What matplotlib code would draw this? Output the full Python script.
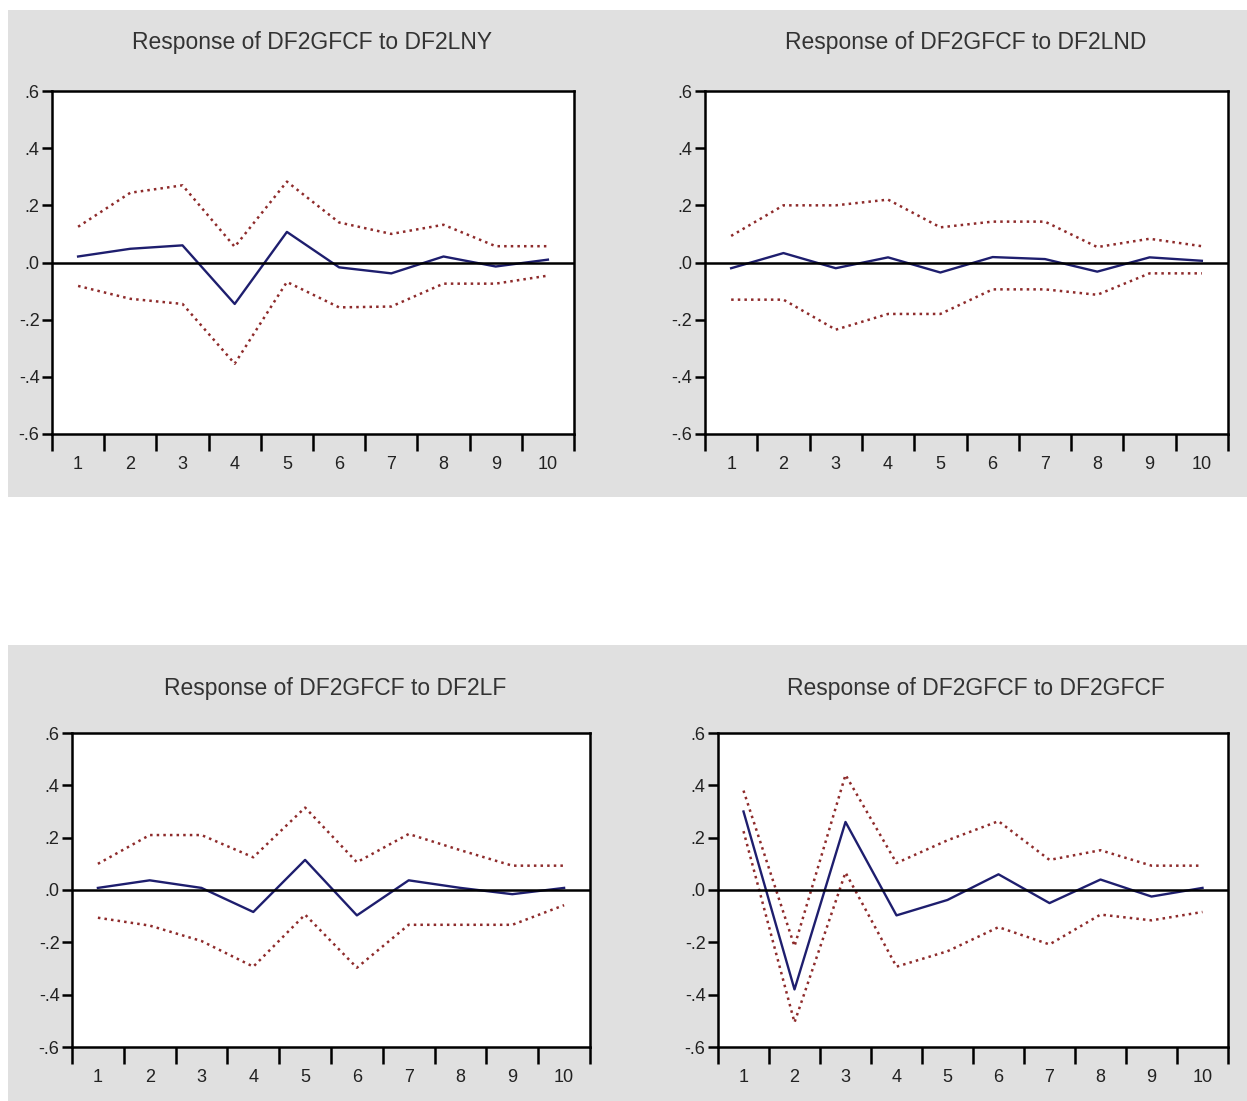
import matplotlib
matplotlib.use("Agg")
import matplotlib.pyplot as plt
from matplotlib.patches import Rectangle
from matplotlib.ticker import FixedLocator, FuncFormatter, NullFormatter

plt.rcParams['font.family'] = ['Liberation Sans', 'DejaVu Sans']

W, H = 1247, 1101

periods = list(range(1, 11))

titles = [
    "Response of DF2GFCF to DF2LNY",
    "Response of DF2GFCF to DF2LND",
    "Response of DF2GFCF to DF2LF",
    "Response of DF2GFCF to DF2GFCF",
]

# impulse responses and +/- 2 S.E. bands
resp_lny = [0.021, 0.048, 0.060, -0.145, 0.107, -0.017, -0.038, 0.021, -0.014, 0.010]
upper_lny = [0.125, 0.244, 0.270, 0.055, 0.283, 0.140, 0.100, 0.132, 0.057, 0.057]
lower_lny = [-0.082, -0.127, -0.145, -0.354, -0.068, -0.157, -0.154, -0.074, -0.074, -0.046]

resp_lnd = [-0.020, 0.033, -0.020, 0.018, -0.035, 0.019, 0.012, -0.032, 0.018, 0.006]
upper_lnd = [0.093, 0.200, 0.200, 0.220, 0.123, 0.143, 0.143, 0.054, 0.083, 0.057]
lower_lnd = [-0.130, -0.130, -0.235, -0.180, -0.180, -0.094, -0.094, -0.113, -0.038, -0.038]

resp_lf = [0.008, 0.037, 0.008, -0.084, 0.115, -0.097, 0.037, 0.008, -0.016, 0.008]
upper_lf = [0.100, 0.210, 0.210, 0.125, 0.315, 0.106, 0.214, 0.152, 0.093, 0.093]
lower_lf = [-0.106, -0.136, -0.195, -0.293, -0.094, -0.297, -0.133, -0.133, -0.133, -0.058]

resp_gfcf = [0.300, -0.380, 0.260, -0.097, -0.038, 0.060, -0.050, 0.040, -0.025, 0.008]
upper_gfcf = [0.380, -0.215, 0.440, 0.103, 0.190, 0.263, 0.115, 0.152, 0.093, 0.093]
lower_gfcf = [0.225, -0.506, 0.067, -0.293, -0.234, -0.142, -0.208, -0.094, -0.116, -0.084]

series = [
    (resp_lny, upper_lny, lower_lny),
    (resp_lnd, upper_lnd, lower_lnd),
    (resp_lf, upper_lf, lower_lf),
    (resp_gfcf, upper_gfcf, lower_gfcf),
]

# axes boxes in pixels: left, right, top, bottom
boxes = [
    (52, 574, 91, 434),
    (705, 1228, 91, 434),
    (72, 590, 733, 1047),
    (718, 1228, 733, 1047),
]
title_pos = [(312, 42), (966, 42), (335, 688), (976, 688)]

fig = plt.figure(figsize=(W / 100, H / 100), dpi=100)
fig.patch.set_facecolor('white')

# grey backing panels for each row of graphs
for y0, y1 in [(10, 497), (645, 1101)]:
    fig.patches.append(Rectangle((8 / W, 1 - y1 / H), (W - 8) / W, (y1 - y0) / H,
                                 transform=fig.transFigure, facecolor='#e0e0e0',
                                 edgecolor='none', zorder=-5))


def fmt_y(v, pos):
    s = f"{v:.1f}"
    return s.replace("0.", ".")


for (l, r, t, b), title, (tx, ty), (resp, up, lo) in zip(boxes, titles, title_pos, series):
    ax = fig.add_axes([l / W, 1 - b / H, (r - l) / W, (b - t) / H])
    ax.set_facecolor('white')
    ax.plot(periods, up, color='#8e2b2b', linestyle=':', linewidth=1.8)
    ax.plot(periods, lo, color='#8e2b2b', linestyle=':', linewidth=1.8)
    ax.plot(periods, resp, color='#1e1e6e', linewidth=1.7)
    ax.axhline(0, color='black', linewidth=1.8)

    ax.set_xlim(0.5, 10.5)
    ax.set_ylim(-0.6, 0.6)

    ax.xaxis.set_major_locator(FixedLocator([i + 0.5 for i in range(0, 11)]))
    ax.xaxis.set_major_formatter(NullFormatter())
    ax.xaxis.set_minor_locator(FixedLocator(periods))
    ax.xaxis.set_minor_formatter(FuncFormatter(lambda v, p: f"{int(v)}"))
    ax.tick_params(axis='x', which='major', direction='out', length=12, width=1.8)
    ax.tick_params(axis='x', which='minor', length=0, pad=16, labelsize=13,
                   labelcolor='#222222')

    ax.set_yticks([0.6, 0.4, 0.2, 0.0, -0.2, -0.4, -0.6])
    ax.yaxis.set_major_formatter(FuncFormatter(fmt_y))
    ax.tick_params(axis='y', direction='out', length=7, width=1.8, labelsize=13,
                   pad=2, labelcolor='#222222')

    for sp in ax.spines.values():
        sp.set_linewidth(1.8)

    fig.text(tx / W, 1 - ty / H, title, ha='center', va='center',
             fontsize=16.5, color='#333333')

fig.savefig('out.png', dpi=100)
